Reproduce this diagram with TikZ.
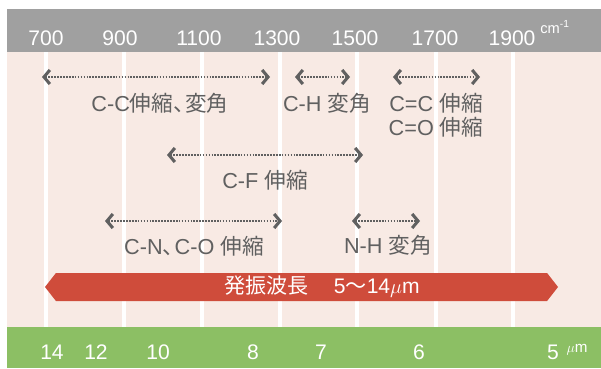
\documentclass[tikz,border=0pt]{standalone}
\usepackage{fontspec}
\setmainfont{Liberation Sans}
\newfontfamily\jp{Noto Sans CJK JP}
\usepackage{tikz}
\usetikzlibrary{shapes,arrows.meta,positioning}

\definecolor{topgray}{HTML}{A0A0A0}
\definecolor{bgpink}{HTML}{F8EAE4}
\definecolor{botgreen}{HTML}{8CBF64}
\definecolor{bandred}{HTML}{CF4C3B}
\definecolor{labelgray}{HTML}{606060}

\begin{document}
\begin{tikzpicture}[
    x=0.03cm, y=-0.03cm,
    scalelabel/.style={text=white, font=\fontsize{18}{20}\selectfont, inner sep=0pt},
    mode/.style={text=labelgray, font=\fontsize{18.5}{22}\selectfont, inner sep=0pt},
    gridline/.style={white, line width=2.6pt},
    peakrange/.style={{Straight Barb[length=5pt,width=12pt,line width=2.6pt]}-{Straight Barb[length=5pt,width=12pt,line width=2.6pt]}, draw=labelgray, line width=1.6pt, dash pattern=on 1.4pt off 1.1pt},
    band/.style={double arrow, double arrow head extend=0pt, double arrow tip angle=104, fill=bandred, minimum height=15.39cm, minimum width=0.84cm, inner sep=0pt}
]

% Background
\useasboundingbox [fill=white] (0,0) rectangle (601,368);
\fill [topgray] (7,9) rectangle (601,52);
\fill [bgpink] (7,52) rectangle (601,327);
\fill [botgreen] (7,327) rectangle (601,368);

% Grid lines
\draw [gridline] (46,52) -- (46,327);
\draw [gridline] (124,52) -- (124,327);
\draw [gridline] (202,52) -- (202,327);
\draw [gridline] (280,52) -- (280,327);
\draw [gridline] (357,52) -- (357,327);
\draw [gridline] (436,52) -- (436,327);
\draw [gridline] (513,52) -- (513,327);

% Wavenumber scale
\node (k700) [scalelabel] at (46,38) {700};
\node (k900) [scalelabel] at (120,38) {900};
\node (k1100) [scalelabel] at (199,38) {1100};
\node (k1300) [scalelabel] at (277,38) {1300};
\node (k1500) [scalelabel] at (355,38) {1500};
\node (k1700) [scalelabel] at (435,38) {1700};
\node (k1900) [scalelabel] at (512,38) {1900};
\node (kunit) [text=white, font=\fontsize{12.5}{14}\selectfont, inner sep=0pt] at (555,27) {cm\textsuperscript{-1}};

% Wavelength scale
\node (w14) [scalelabel] at (52,352) {14};
\node (w12) [scalelabel] at (96,352) {12};
\node (w10) [scalelabel] at (158,352) {10};
\node (w8) [scalelabel] at (253,352) {8};
\node (w7) [scalelabel] at (321,352) {7};
\node (w6) [scalelabel] at (419,352) {6};
\node (w5) [scalelabel] at (553,352) {5};
\node (wunit) [text=white, font=\fontsize{13}{15}\selectfont, inner sep=0pt] at (577,350) {$\mu$m};

% Range ends
\coordinate (cc-l) at (42,77);
\coordinate (cc-r) at (270,77);
\coordinate (ch-l) at (295,77);
\coordinate (ch-r) at (350,77);
\coordinate (cdb-l) at (393,77);
\coordinate (cdb-r) at (480,77);
\coordinate (cf-l) at (167,155);
\coordinate (cf-r) at (363,155);
\coordinate (cnco-l) at (105,221);
\coordinate (cnco-r) at (282,221);
\coordinate (nh-l) at (352,221);
\coordinate (nh-r) at (420,221);

% Ranges
\draw [peakrange] (cc-l) -- (cc-r);
\draw [peakrange] (ch-l) -- (ch-r);
\draw [peakrange] (cdb-l) -- (cdb-r);
\draw [peakrange] (cf-l) -- (cf-r);
\draw [peakrange] (cnco-l) -- (cnco-r);
\draw [peakrange] (nh-l) -- (nh-r);

% Vibration modes
\node (cc) [mode] at (160,103) {C-C{\jp 伸縮、\hspace{-0.45em}変角}};
\node (ch) [mode] at (327,103) {C-H {\jp 変角}};
\node (ccd) [mode] at (436,103) {C=C {\jp 伸縮}};
\node (cod) [mode, below=3pt of ccd] {C=O {\jp 伸縮}};
\node (cf) [mode] at (265,180) {C-F {\jp 伸縮}};
\node (cnco) [mode] at (194,246) {C-N{\jp 、\hspace{-0.45em}}C-O {\jp 伸縮}};
\node (nh) [mode] at (388,245) {N-H {\jp 変角}};

% Oscillation band
\node (osc) [band] at (301.5,287) {};
\node (osctext) [text=white, font=\fontsize{18}{20}\selectfont, inner sep=0pt] at (322,287) {{\jp 発振波長}\hspace{1.2em}5{\jp ～}14$\mu$m};

\end{tikzpicture}
\end{document}
